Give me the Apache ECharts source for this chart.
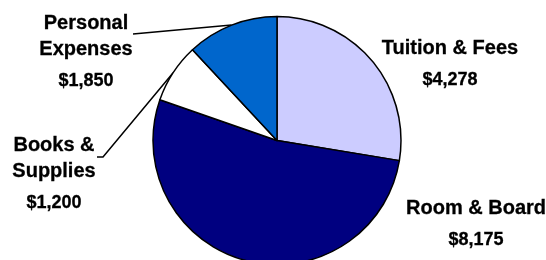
<!DOCTYPE html>
<html>
<head>
<meta charset="utf-8">
<script src="https://cdn.jsdelivr.net/npm/echarts@6/dist/echarts.min.js"></script>
<style>
  html, body { margin: 0; padding: 0; background: #fff; }
  #chart { width: 546px; height: 260px; }
</style>
</head>
<body>
<div id="chart"></div>
<script>
const categories = ["Tuition & Fees", "Room & Board", "Books & Supplies", "Personal Expenses"];
const labelNames = ["Tuition & Fees", "Room & Board", "Books &\nSupplies", "Personal\nExpenses"];
const costs = [4278, 8175, 1200, 1850];
const colors = ["#ccccff", "#000080", "#ffffff", "#0066cc"];

// label block centres and leader line bends
const labelX = [450, 476, 54, 86];
const labelY = [67, 227, 177, 55];
const leaderEnd = [null, null, [[103, 157], [97, 157]], [[133, 34]]];

const chart = echarts.init(document.getElementById("chart"));

const fmtMoney = (v) => "$" + v.toLocaleString("en-US");
const font = "Liberation Sans, Arial, sans-serif";

chart.setOption({
  animation: false,
  textStyle: { fontFamily: font },
  series: [
    {
      type: "pie",
      center: [277, 140.5],
      radius: 124,
      startAngle: 90,
      clockwise: true,
      itemStyle: { borderColor: "#000", borderWidth: 1.5 },
      emphasis: { disabled: true },
      label: {
        show: true,
        position: "outside",
        overflow: "none",
        edgeDistance: 0,
        formatter: (p) => "{n|" + labelNames[p.dataIndex] + "}\n{v|" + fmtMoney(p.value) + "}",
        rich: {
          n: { fontSize: 20, fontWeight: "bold", color: "#000", lineHeight: 26, align: "center",
               fontFamily: font, textBorderColor: "#000", textBorderWidth: 0.3 },
          v: { fontSize: 18, fontWeight: "bold", color: "#000", lineHeight: 38, align: "center",
               fontFamily: font, textBorderColor: "#000", textBorderWidth: 0.3 },
        },
      },
      labelLine: { show: true, lineStyle: { color: "#000", width: 1.5 } },
      labelLayout: (params) => {
        const i = params.dataIndex;
        const out = { x: labelX[i], y: labelY[i], align: "center", verticalAlign: "middle" };
        if (leaderEnd[i] && params.labelLinePoints) {
          out.labelLinePoints = [params.labelLinePoints[0]].concat(leaderEnd[i]);
        }
        return out;
      },
      data: categories.map((name, i) => ({
        name,
        value: costs[i],
        itemStyle: { color: colors[i] },
        labelLine: { show: leaderEnd[i] != null },
      })),
    },
  ],
});
</script>
</body>
</html>
